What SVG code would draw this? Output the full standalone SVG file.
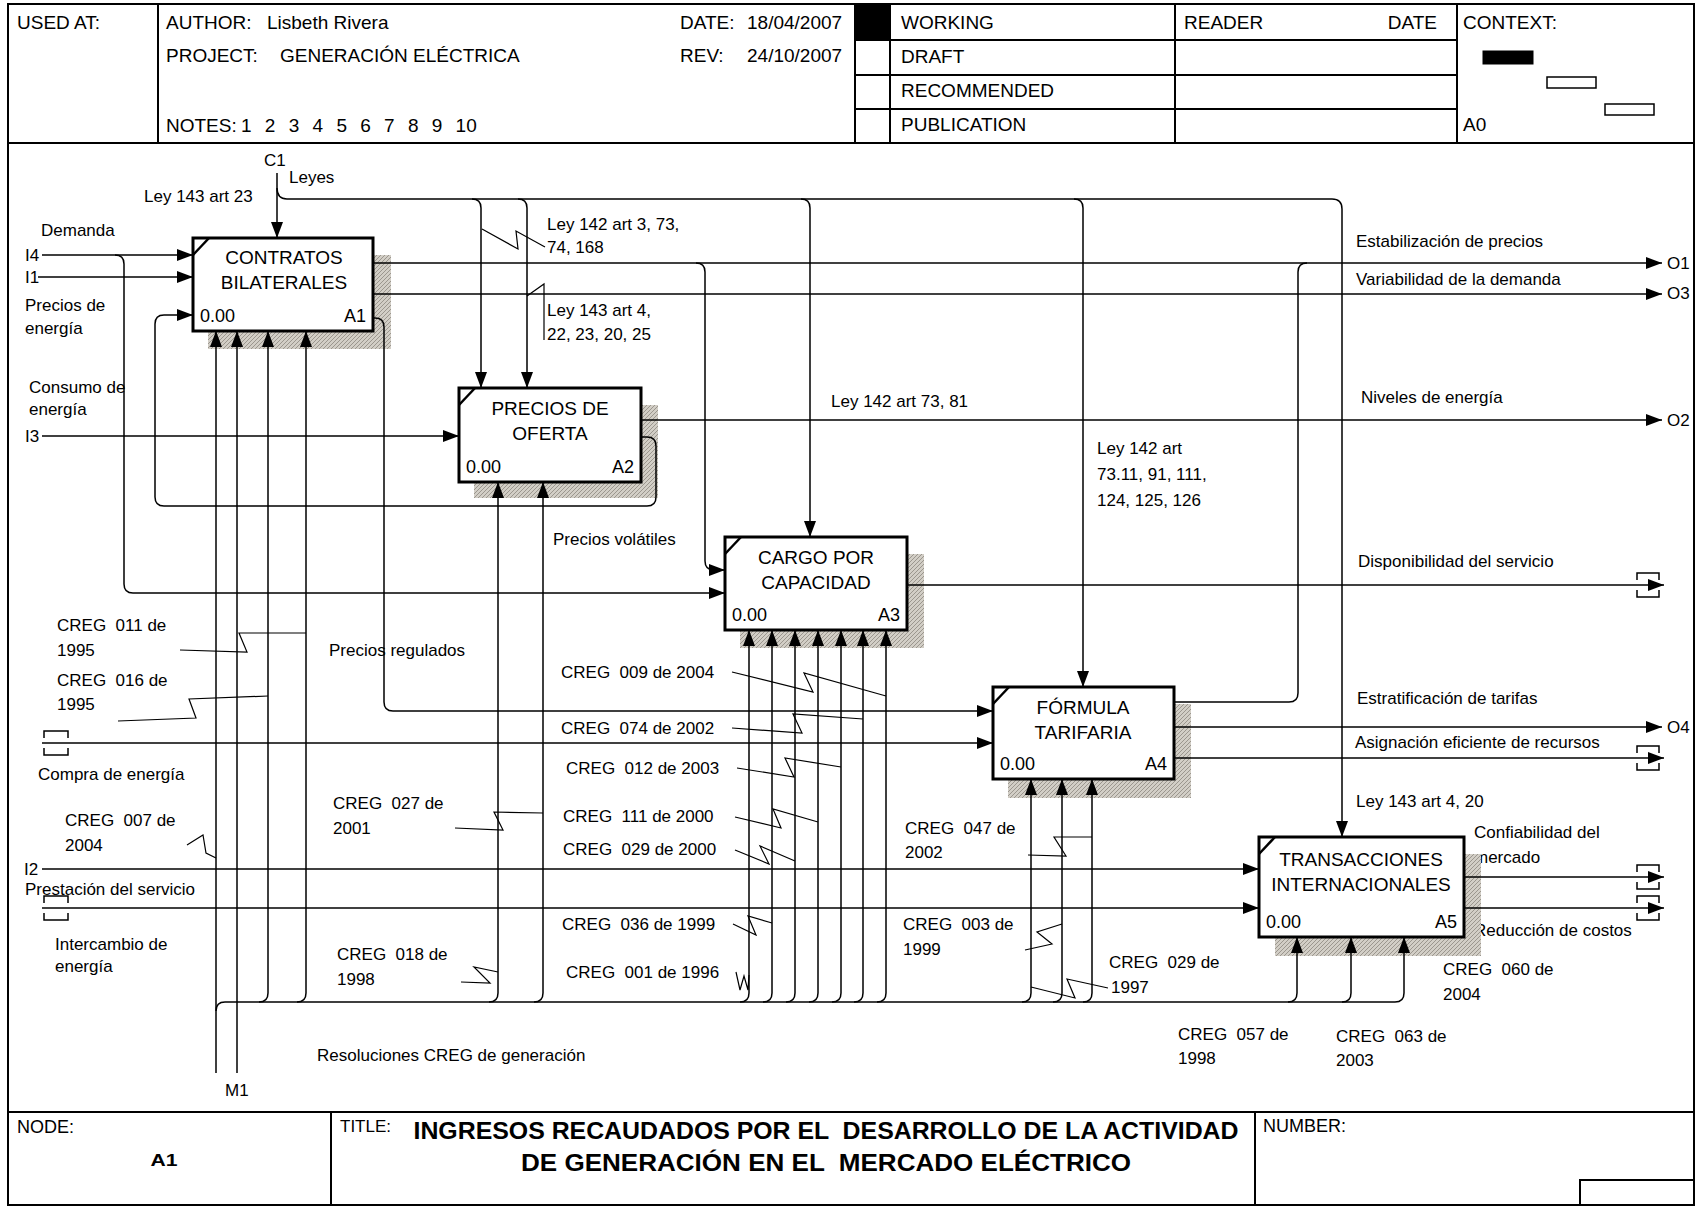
<svg xmlns="http://www.w3.org/2000/svg" width="1697" height="1207" viewBox="0 0 1697 1207">
<style>
text{font-family:"Liberation Sans",Arial,sans-serif;font-size:17px;fill:#000;white-space:pre}
.hdr{font-size:19px}
.box{font-size:19px;text-anchor:middle}
.num{font-size:18px}
.ttl{font-size:24px;font-weight:bold;text-anchor:middle}
.fr{fill:none;stroke:#000;stroke-width:2}
.c{fill:none;stroke:#000;stroke-width:1.5}
.sq{fill:none;stroke:#000;stroke-width:1.2}
.bx{fill:#fff;stroke:#000;stroke-width:3}
.sh{fill:url(#hatch)}
.cor{stroke:#000;stroke-width:2.5}
.a{marker-end:url(#ah)}
</style>
<defs>
<marker id="ah" viewBox="0 0 16 12" refX="16" refY="6" markerWidth="16" markerHeight="12" markerUnits="userSpaceOnUse" orient="auto"><path d="M0,0 L16,6 L0,12 z" fill="#000"/></marker>
<pattern id="hatch" patternUnits="userSpaceOnUse" width="4" height="4"><rect width="4" height="4" fill="#d2cec6"/><path d="M-1,1 l2,-2 M0,4 l4,-4 M3,5 l2,-2" stroke="#9b968e" stroke-width="1"/></pattern>
</defs>
<rect width="1697" height="1207" fill="#fff"/>
<g id="frame">
<rect class="fr" x="8" y="4" width="1686" height="1201"/>
<path class="fr" d="M8,143H1694M158,4V143M855,4V143M890,4V143M1175,4V143M1457,4V143M855,40H1457M855,75H1457M855,109H1457"/>
<rect x="855" y="4" width="35" height="36" fill="#000"/>
<rect x="1483" y="51" width="50" height="13" fill="#000" stroke="#000"/>
<rect x="1547" y="77" width="49" height="11" fill="#fff" stroke="#000" stroke-width="1.5"/>
<rect x="1605" y="104" width="49" height="11" fill="#fff" stroke="#000" stroke-width="1.5"/>
<path class="fr" d="M8,1112H1694M331,1112V1205M1255,1112V1205"/>
<rect class="fr" x="1580" y="1180" width="114" height="25"/>
<text class="hdr" x="17" y="29">USED AT:</text>
<text class="hdr" x="166" y="29">AUTHOR:</text>
<text class="hdr" x="267" y="29">Lisbeth Rivera</text>
<text class="hdr" x="680" y="29">DATE:</text>
<text class="hdr" x="747" y="29">18/04/2007</text>
<text class="hdr" x="166" y="62">PROJECT:</text>
<text class="hdr" x="280" y="62">GENERACIÓN ELÉCTRICA</text>
<text class="hdr" x="680" y="62">REV:</text>
<text class="hdr" x="747" y="62">24/10/2007</text>
<text class="hdr" x="166" y="132">NOTES:</text>
<text class="hdr" x="241" y="132" word-spacing="8">1 2 3 4 5 6 7 8 9 10</text>
<text class="hdr" x="901" y="29">WORKING</text>
<text class="hdr" x="901" y="63">DRAFT</text>
<text class="hdr" x="901" y="97">RECOMMENDED</text>
<text class="hdr" x="901" y="131">PUBLICATION</text>
<text class="hdr" x="1184" y="29">READER</text>
<text class="hdr" x="1437" y="29" text-anchor="end">DATE</text>
<text class="hdr" x="1463" y="29">CONTEXT:</text>
<text class="hdr" x="1463" y="131">A0</text>
<text class="num" x="17" y="1133">NODE:</text>
<text x="164" y="1166" font-size="27" font-weight="bold" text-anchor="middle" textLength="27" lengthAdjust="spacingAndGlyphs">A1</text>
<text x="340" y="1132" font-size="17">TITLE:</text>
<text class="ttl" x="826" y="1139" textLength="825" lengthAdjust="spacingAndGlyphs">INGRESOS RECAUDADOS POR EL  DESARROLLO DE LA ACTIVIDAD</text>
<text class="ttl" x="826" y="1171" textLength="610" lengthAdjust="spacingAndGlyphs">DE GENERACIÓN EN EL  MERCADO ELÉCTRICO</text>
<text class="num" x="1263" y="1132">NUMBER:</text>
</g>
<g id="labels">
<text x="264" y="166">C1</text>
<text x="289" y="183">Leyes</text>
<text x="144" y="202">Ley 143 art 23</text>
<text x="41" y="236">Demanda</text>
<text x="25" y="261">I4</text>
<text x="25" y="283">I1</text>
<text x="25" y="311">Precios de</text>
<text x="25" y="334">energía</text>
<text x="29" y="393">Consumo de</text>
<text x="29" y="415">energía</text>
<text x="25" y="442">I3</text>
<text x="547" y="230">Ley 142 art 3, 73,</text>
<text x="547" y="253">74, 168</text>
<text x="547" y="316">Ley 143 art 4,</text>
<text x="547" y="340">22, 23, 20, 25</text>
<text x="1356" y="247">Estabilización de precios</text>
<text x="1356" y="285">Variabilidad de la demanda</text>
<text x="831" y="407">Ley 142 art 73, 81</text>
<text x="1361" y="403">Niveles de energía</text>
<text x="1097" y="454">Ley 142 art</text>
<text x="1097" y="480">73.11, 91, 111,</text>
<text x="1097" y="506">124, 125, 126</text>
<text x="553" y="545">Precios volátiles</text>
<text x="1358" y="567">Disponibilidad del servicio</text>
<text x="57" y="631">CREG  011 de</text>
<text x="57" y="656">1995</text>
<text x="329" y="656">Precios regulados</text>
<text x="57" y="686">CREG  016 de</text>
<text x="57" y="710">1995</text>
<text x="561" y="678">CREG  009 de 2004</text>
<text x="1357" y="704">Estratificación de tarifas</text>
<text x="561" y="734">CREG  074 de 2002</text>
<text x="1355" y="748">Asignación eficiente de recursos</text>
<text x="38" y="780">Compra de energía</text>
<text x="566" y="774">CREG  012 de 2003</text>
<text x="1356" y="807">Ley 143 art 4, 20</text>
<text x="333" y="809">CREG  027 de</text>
<text x="333" y="834">2001</text>
<text x="563" y="822">CREG  111 de 2000</text>
<text x="65" y="826">CREG  007 de</text>
<text x="65" y="851">2004</text>
<text x="563" y="855">CREG  029 de 2000</text>
<text x="905" y="834">CREG  047 de</text>
<text x="905" y="858">2002</text>
<text x="1474" y="838">Confiabilidad del</text>
<text x="1474" y="863">mercado</text>
<text x="24" y="875">I2</text>
<text x="25" y="895">Prestación del servicio</text>
<text x="1474" y="936">Reducción de costos</text>
<text x="562" y="930">CREG  036 de 1999</text>
<text x="903" y="930">CREG  003 de</text>
<text x="903" y="955">1999</text>
<text x="55" y="950">Intercambio de</text>
<text x="55" y="972">energía</text>
<text x="337" y="960">CREG  018 de</text>
<text x="337" y="985">1998</text>
<text x="1443" y="975">CREG  060 de</text>
<text x="1443" y="1000">2004</text>
<text x="566" y="978">CREG  001 de 1996</text>
<text x="1109" y="968">CREG  029 de</text>
<text x="1111" y="993">1997</text>
<text x="1178" y="1040">CREG  057 de</text>
<text x="1178" y="1064">1998</text>
<text x="1336" y="1042">CREG  063 de</text>
<text x="1336" y="1066">2003</text>
<text x="317" y="1061">Resoluciones CREG de generación</text>
<text x="225" y="1096">M1</text>
<text x="1667" y="269">O1</text>
<text x="1667" y="299">O3</text>
<text x="1667" y="426">O2</text>
<text x="1667" y="733">O4</text>
</g>
<g id="A1">
<rect class="sh" x="208" y="255" width="183" height="94"/>
<rect class="bx" x="193" y="238" width="180" height="93"/>
<path class="cor" d="M193,255L209,238"/>
<text class="box" x="284" y="264">CONTRATOS</text>
<text class="box" x="284" y="289">BILATERALES</text>
<text class="num" x="200" y="322">0.00</text>
<text class="num" x="366" y="322" text-anchor="end">A1</text>
</g>
<g id="A2">
<rect class="sh" x="474" y="405" width="184" height="93"/>
<rect class="bx" x="459" y="388" width="182" height="94"/>
<path class="cor" d="M459,405L475,388"/>
<text class="box" x="550" y="415">PRECIOS DE</text>
<text class="box" x="550" y="440">OFERTA</text>
<text class="num" x="466" y="473">0.00</text>
<text class="num" x="634" y="473" text-anchor="end">A2</text>
</g>
<g id="A3">
<rect class="sh" x="740" y="554" width="184" height="94"/>
<rect class="bx" x="725" y="537" width="182" height="93"/>
<path class="cor" d="M725,554L741,537"/>
<text class="box" x="816" y="564">CARGO POR</text>
<text class="box" x="816" y="589">CAPACIDAD</text>
<text class="num" x="732" y="621">0.00</text>
<text class="num" x="900" y="621" text-anchor="end">A3</text>
</g>
<g id="A4">
<rect class="sh" x="1008" y="704" width="183" height="94"/>
<rect class="bx" x="993" y="687" width="181" height="92"/>
<path class="cor" d="M993,704L1009,687"/>
<text class="box" x="1083" y="714">FÓRMULA</text>
<text class="box" x="1083" y="739">TARIFARIA</text>
<text class="num" x="1000" y="770">0.00</text>
<text class="num" x="1167" y="770" text-anchor="end">A4</text>
</g>
<g id="A5">
<rect class="sh" x="1275" y="854" width="206" height="102"/>
<rect class="bx" x="1259" y="837" width="205" height="100"/>
<path class="cor" d="M1259,854L1275,837"/>
<text class="box" x="1361" y="866">TRANSACCIONES</text>
<text class="box" x="1361" y="891">INTERNACIONALES</text>
<text class="num" x="1266" y="928">0.00</text>
<text class="num" x="1457" y="928" text-anchor="end">A5</text>
</g>
<g id="connectors">
<path class="c a" d="M277,173V238"/>
<path class="c a" d="M277,188Q277,199 287,199H1332Q1342,199 1342,209V837"/>
<path class="c a" d="M472,199Q481,199 481,208V388"/>
<path class="c a" d="M518,199Q527,199 527,208V388"/>
<path class="c a" d="M801,199Q810,199 810,208V537"/>
<path class="c a" d="M1074,199Q1083,199 1083,208V687"/>
<path class="c a" d="M42,255H193"/>
<path class="c a" d="M115,255Q124,255 124,264V584Q124,593 133,593H725"/>
<path class="c a" d="M38,277H193"/>
<path class="c a" d="M42,436H459"/>
<path class="c a" d="M42,869H1259"/>
<path class="c a" d="M42,908H1259"/>
<path class="c a" d="M42,743H993"/>
<path class="c" d="M44,738V731H68V738M44,748V755H68V748M44,903V896H68V903M44,913V920H68V913"/>
<path class="c a" d="M373,263H1662"/>
<path class="c a" d="M373,294H1662"/>
<path class="c a" d="M373,318H375Q384,318 384,327V702Q384,711 393,711H993"/>
<path class="c a" d="M696,263Q705,263 705,272V561Q705,570 714,570H725"/>
<path class="c" d="M1174,702H1289Q1298,702 1298,693V272Q1298,263 1307,263"/>
<path class="c a" d="M641,420H1662"/>
<path class="c a" d="M641,437H647Q656,437 656,446V497Q656,506 647,506H164Q155,506 155,497V324Q155,315 164,315H193"/>
<path class="c a" d="M907,585H1664"/>
<path class="c a" d="M1174,727H1662"/>
<path class="c a" d="M1174,758H1664"/>
<path class="c a" d="M1464,877H1664"/>
<path class="c a" d="M1464,908H1664"/>
<path class="c" d="M1637,580V573H1659V580M1637,590V597H1659V590M1637,753V746H1659V753M1637,763V770H1659V763M1637,872V865H1659V872M1637,882V889H1659V882M1637,903V896H1659V903M1637,913V920H1659V913"/>
<path class="c a" d="M216,1073V331"/>
<path class="c a" d="M237,1073V331"/>
<path class="c a" d="M216,1011Q216,1002 225,1002H1395Q1404,1002 1404,993V937"/>
<path class="c a" d="M259,1002Q268,1002 268,993V331"/>
<path class="c a" d="M297,1002Q306,1002 306,993V331"/>
<path class="c a" d="M489,1002Q498,1002 498,993V482"/>
<path class="c a" d="M534,1002Q543,1002 543,993V482"/>
<path class="c a" d="M740,1002Q749,1002 749,993V630"/>
<path class="c a" d="M763,1002Q772,1002 772,993V630"/>
<path class="c a" d="M786,1002Q795,1002 795,993V630"/>
<path class="c a" d="M809,1002Q818,1002 818,993V630"/>
<path class="c a" d="M832,1002Q841,1002 841,993V630"/>
<path class="c a" d="M854,1002Q863,1002 863,993V630"/>
<path class="c a" d="M877,1002Q886,1002 886,993V630"/>
<path class="c a" d="M1022,1002Q1031,1002 1031,993V779"/>
<path class="c a" d="M1053,1002Q1062,1002 1062,993V779"/>
<path class="c a" d="M1083,1002Q1092,1002 1092,993V779"/>
<path class="c a" d="M1288,1002Q1297,1002 1297,993V937"/>
<path class="c a" d="M1342,1002Q1351,1002 1351,993V937"/>
<polyline class="sq" points="482,229 518,249 516,231 545,247"/>
<polyline class="sq" points="527,296 544,284 544,340"/>
<polyline class="sq" points="180,650 247,652 239,633 306,633"/>
<polyline class="sq" points="118,721 196,718 189,699 268,696"/>
<polyline class="sq" points="187,845 203,835 206,853 216,858"/>
<polyline class="sq" points="455,828 503,830 494,812 543,813"/>
<polyline class="sq" points="461,982 490,983 474,967 498,972"/>
<polyline class="sq" points="732,672 813,692 804,673 886,696"/>
<polyline class="sq" points="732,728 802,733 793,714 863,719"/>
<polyline class="sq" points="737,768 794,777 785,758 841,767"/>
<polyline class="sq" points="735,817 781,828 773,809 818,822"/>
<polyline class="sq" points="735,850 769,864 760,846 795,861"/>
<polyline class="sq" points="733,924 756,935 748,916 772,923"/>
<polyline class="sq" points="736,972 740,990 744,976 748,990 749,975"/>
<polyline class="sq" points="1028,855 1066,856 1054,837 1092,837"/>
<polyline class="sq" points="1025,950 1052,944 1037,932 1062,924"/>
<polyline class="sq" points="1031,987 1075,998 1067,979 1108,988"/>
</g>
</svg>
